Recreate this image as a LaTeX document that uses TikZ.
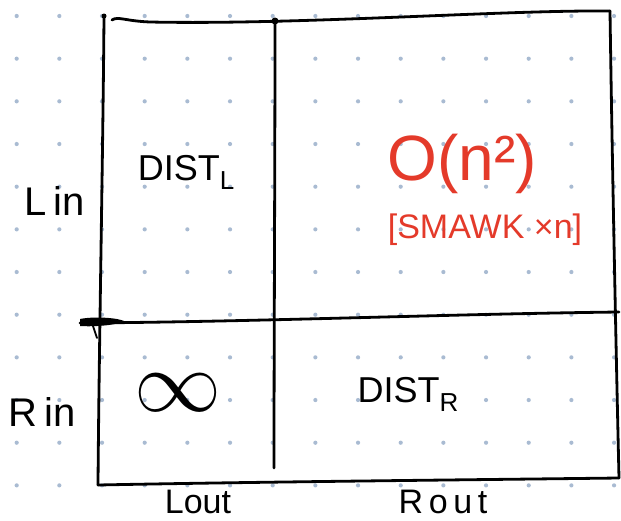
\documentclass[tikz,border=0pt]{standalone}
\usepackage{fontspec}
\setmainfont{Liberation Sans}
\begin{document}
\begin{tikzpicture}[x=1pt,y=-1pt,
  pen/.style={line width=2.8pt,line cap=round,line join=round,black},
  griddot/.style={fill=dotblue,draw=none},
  ink/.style={text=black,inner sep=0pt},
  redink/.style={text=sketchred,inner sep=0pt}]
\definecolor{dotblue}{HTML}{A9BBD2}
\definecolor{sketchred}{HTML}{E43A2A}
\useasboundingbox[fill=white] (0,0) rectangle (621,520);

% dotted grid paper
\foreach \i in {0,...,14}
  \foreach \j in {0,...,11}
    \fill[griddot] ({16.67+42.67*\i},{16+42.67*\j}) circle (2.1pt);

% corners and crossing points of the frame
\coordinate (tl) at (104,16);
\coordinate (tlh) at (112,20);
\coordinate (tm) at (275,21);
\coordinate (tr) at (610,11);
\coordinate (bl) at (98,485);
\coordinate (bm) at (274,468);
\coordinate (br) at (619,478);
\coordinate (ml) at (80,323);
\coordinate (mr) at (619,312);

% outer frame
\draw[pen] (tl) .. controls (103,150) and (99,350) .. (bl);
\draw[pen] (tlh) .. controls (118,16) and (125,21) .. (150,22) .. controls (300,25) and (500,10) .. (tr);
\draw[pen] (tr) .. controls (612,150) and (616,350) .. (br);
\draw[pen] (bl) .. controls (250,482) and (450,480) .. (br);
% inner dividers
\draw[pen] (tm) .. controls (275,150) and (274,350) .. (bm);
\draw[pen] (ml) .. controls (250,322) and (450,314) .. (mr);
\fill (tm) circle (3.5pt);
\fill (tl) circle (2.5pt);
\fill (80,319) .. controls (95,316) and (118,318) .. (124,321) .. controls (118,325) and (95,327) .. (80,326) -- cycle;
\draw[pen,line width=1.8pt] (93,326) -- (97,338);

% cell contents
\node[ink,font=\fontsize{36}{36}\selectfont] (distl) at (186,172)
  {DIST\raisebox{-9pt}{\fontsize{26}{26}\selectfont L}};
\node[redink,font=\fontsize{64}{64}\selectfont] (cost) at (462,164) {O(n²)};
\node[redink,font=\fontsize{34}{34}\selectfont] (smawk) at (485,230) {[SMAWK ×n]};
\node[ink,scale=8.7] (inf) at (178,393) {$\infty$};
\node[ink,font=\fontsize{36}{36}\selectfont] (distr) at (408,394)
  {DIST\raisebox{-9pt}{\fontsize{26}{26}\selectfont R}};

% row and column labels
\node[ink,font=\fontsize{40}{40}\selectfont] (lin) at (55,201) {L\,in};
\node[ink,font=\fontsize{40}{40}\selectfont] (rin) at (42,412) {R\,in};
\node[ink,font=\fontsize{34}{34}\selectfont,anchor=base] (lout) at (198,513) {Lout};
\node[ink,font=\fontsize{34}{34}\selectfont,anchor=base] (rout) at (443,513) {R\,o\,u\,t};
\end{tikzpicture}
\end{document}
